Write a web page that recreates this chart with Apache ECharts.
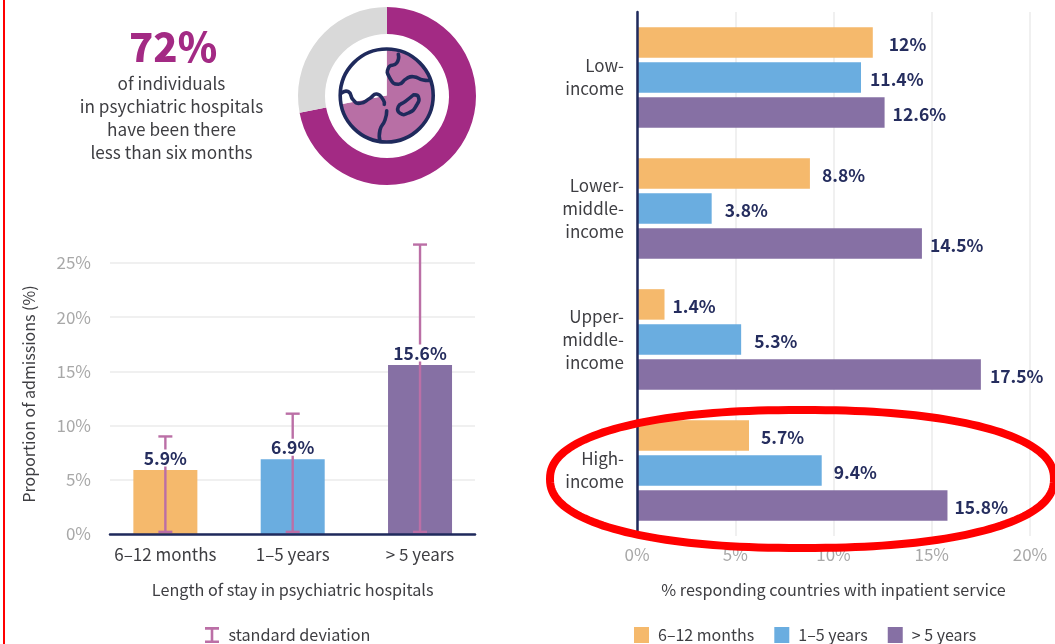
<!DOCTYPE html>
<html><head><meta charset="utf-8">
<style>html,body{margin:0;padding:0;background:#fff}#c{width:1055px;height:644px}</style>
<script src="https://cdn.jsdelivr.net/npm/echarts@6/dist/echarts.min.js"></script>
</head><body><div id="c"></div>
<script>
const stayCategories = ['6–12 months','1–5 years','> 5 years'];
const stayValues = [5.9, 6.9, 15.6];
const stayLow = [0.2, 0.2, 0.2];
const stayHigh = [9.0, 11.1, 26.7];
const incomeCategories = ['Low-\nincome','Lower-\nmiddle-\nincome','Upper-\nmiddle-\nincome','High-\nincome'];
const months6to12 = [12, 8.8, 1.4, 5.7];
const years1to5 = [11.4, 3.8, 5.3, 9.4];
const yearsOver5 = [12.6, 14.5, 17.5, 15.8];
const gaps6to12 = [16, 12, 8, 12];
const gaps1to5 = [9, 13, 13, 12];
const gapsOver5 = [8, 8, 9, 7];
const donutShares = [72, 28];

const FONT = '"Noto Sans CJK SC","Noto Sans",sans-serif';
const ORANGE='#f5b96c', BLUE='#6aade0', PURPLE='#8670a4', NAVY='#1f2a5c', MAGENTA='#a32a84', PINK='#bb6fa6', GREY='#a8a8a8', TEXT='#3e3e42', GRID='#ebebeb';

const iconLines = [
  {pts:[[398.3,54.3],[396.7,63],[388.6,67.5],[389.8,78],[398.3,84.3],[406.7,78.5],[413.3,76.7],[423.3,80],[430,80.3]]},
  {pts:[[341,93.3],[348.3,91.7],[353.3,100],[360,103.3],[370,98.3],[376.7,94],[383.3,100],[384.3,104.3]]},
  {pts:[[386.7,110.7],[385,120],[380,130],[380,141.5]]},
  {pts:[[413.3,95],[418.3,96.7],[416.7,105],[408.3,113],[400,113.3],[398.3,106.7],[405,101.7],[413.3,95]]}
];
const storyLines = ['of individuals','in psychiatric hospitals','have been there','less than six months'];

function incomeSeries(name, values, gaps, color){
  return {name, type:'bar', xAxisIndex:2, yAxisIndex:2, barWidth:30.5, barGap:'15%', z:3,
    itemStyle:{color}, silent:true,
    data: values.map((v,i)=>({value:v,label:{distance:gaps[i]}})),
    label:{show:true, position:'right', offset:[0,1.5], formatter:p=>p.value+'%', color:'#252d5e', fontWeight:'bold', fontSize:17.5, fontFamily:FONT}};
}
function loopPoints(cx,cy,rx,ry,n){
  const pts=[];
  for(let d=0;d<360;d+=2){
    const t=d*Math.PI/180,c=Math.cos(t),s=Math.sin(t);
    pts.push([cx+rx*Math.sign(c)*Math.pow(Math.abs(c),2/n), cy+ry*Math.sign(s)*Math.pow(Math.abs(s),2/n)]);
  }
  return pts;
}

const graphicEls = [
  {type:'rect', z:100, silent:true, shape:{x:3,y:0,width:2,height:644}, style:{fill:'#ff0000'}},
  {type:'circle', z:100, silent:true, shape:{cx:386.7,cy:95.5,r:46.5}, style:{fill:'none',stroke:NAVY,lineWidth:3.6}},
  ...iconLines.map(l=>({type:'polyline', z:100, silent:true, shape:{points:l.pts,smooth:0.6}, style:{fill:'none',stroke:NAVY,lineWidth:3.6,lineCap:'round'}})),
  {type:'text', z:100, silent:true, style:{x:173,y:47,text:'72%',fill:MAGENTA,font:'900 40px '+FONT,textAlign:'center',textVerticalAlign:'middle'}},
  ...storyLines.map((t,i)=>({type:'text', z:100, silent:true, style:{x:171.5,y:83.5+i*23,text:t,fill:TEXT,font:'17.2px '+FONT,textAlign:'center',textVerticalAlign:'middle'}})),
  {type:'polygon', z:200, silent:true, shape:{points:loopPoints(802,479,252,69,2.25)}, style:{fill:'none',stroke:'#ff0000',lineWidth:8}}
];

const option = {
  animation:false,
  textStyle:{fontFamily:FONT},
  grid:[
    {left:101.7, width:382, top:263, height:271},
    {left:110, width:365, top:263, height:271},
    {left:637, width:393, top:12, height:524}
  ],
  xAxis:[
    {type:'category', gridIndex:0, data:stayCategories, axisLine:{show:false}, axisTick:{show:false},
      axisLabel:{color:TEXT,fontSize:17,margin:12,interval:0,fontFamily:FONT},
      name:'Length of stay in psychiatric hospitals', nameLocation:'middle', nameGap:48,
      nameTextStyle:{color:TEXT,fontSize:16.2,fontFamily:FONT}},
    {type:'value', gridIndex:1, min:0, max:1, z:10, axisLabel:{show:false}, axisTick:{show:false}, splitLine:{show:false},
      axisLine:{show:true,lineStyle:{color:NAVY,width:2.5}}},
    {type:'value', gridIndex:2, min:0, max:20, interval:5, axisLine:{show:false}, axisTick:{show:false},
      axisLabel:{color:GREY,fontSize:17,margin:10,fontFamily:FONT,formatter:'{value}%'},
      splitLine:{show:true,lineStyle:{color:GRID,width:1.5}},
      name:'% responding countries with inpatient service', nameLocation:'middle', nameGap:46,
      nameTextStyle:{color:TEXT,fontSize:16.2,fontFamily:FONT}}
  ],
  yAxis:[
    {type:'value', gridIndex:0, min:0, max:25, interval:5, axisLine:{show:false}, axisTick:{show:false}, axisLabel:{show:false}, splitLine:{show:false}},
    {type:'value', gridIndex:1, min:0, max:25, interval:5, axisLine:{show:false}, axisTick:{show:false},
      axisLabel:{color:GREY,fontSize:17,margin:19,fontFamily:FONT,formatter:'{value}%',padding:[0,0,6,0]},
      splitLine:{show:true,lineStyle:{color:GRID,width:1.5}},
      name:'Proportion of admissions (%)', nameLocation:'middle', nameGap:73, nameRotate:90,
      nameTextStyle:{color:TEXT,fontSize:16,fontFamily:FONT,padding:[0,0,0,9]}},
    {type:'category', gridIndex:2, inverse:true, data:incomeCategories, z:10,
      axisLine:{show:true,lineStyle:{color:NAVY,width:2.5}}, axisTick:{show:false},
      axisLabel:{color:TEXT,fontSize:17,lineHeight:23,margin:13,align:'right',fontFamily:FONT,padding:[6,0,0,0]}}
  ],
  legend:[
    {left:205, top:627, padding:0, itemWidth:15, itemHeight:16, selectedMode:false,
      data:[{name:'standard deviation', icon:'path://M0 0H14V2.6H8.3V13.4H14V16H0V13.4H5.7V2.6H0Z'}],
      textStyle:{color:TEXT,fontSize:16.2,fontFamily:FONT,padding:[0,0,0,4]}},
    {left:634, top:627, padding:0, itemWidth:15, itemHeight:16, itemGap:20, selectedMode:false, icon:'rect',
      data:['6–12 months','1–5 years','> 5 years'],
      textStyle:{color:TEXT,fontSize:16,fontFamily:FONT,padding:[0,0,0,4]}}
  ],
  series:[
    {type:'pie', center:[387,96], radius:[62,89], startAngle:90, silent:true, label:{show:false}, labelLine:{show:false},
      data:donutShares.map((v,i)=>({value:v,itemStyle:{color:i?'#d9d9d9':MAGENTA}}))},
    {type:'pie', center:[386.7,95.5], radius:[0,46.5], startAngle:90, silent:true, label:{show:false}, labelLine:{show:false},
      data:donutShares.map((v,i)=>({value:v,itemStyle:{color:i?'#ffffff':'#b86fa5'}}))},
    {type:'bar', xAxisIndex:0, yAxisIndex:0, barWidth:64, z:2, silent:true,
      data:stayValues.map((v,i)=>({value:v,itemStyle:{color:[ORANGE,BLUE,PURPLE][i]}}))},
    {name:'standard deviation', type:'custom', xAxisIndex:0, yAxisIndex:0, z:3, silent:true,
      itemStyle:{color:PINK},
      data:stayCategories.map((c,i)=>[i,stayLow[i],stayHigh[i]]),
      encode:{x:0,y:[1,2]},
      renderItem(params,api){
        const lo=api.coord([api.value(0),api.value(1)]), hi=api.coord([api.value(0),api.value(2)]);
        const s={stroke:PINK,lineWidth:2.4,fill:'none'}, cap=7;
        return {type:'group',children:[
          {type:'line',shape:{x1:lo[0],y1:lo[1],x2:hi[0],y2:hi[1]},style:s},
          {type:'line',shape:{x1:lo[0]-cap,y1:lo[1],x2:lo[0]+cap,y2:lo[1]},style:s},
          {type:'line',shape:{x1:hi[0]-cap,y1:hi[1],x2:hi[0]+cap,y2:hi[1]},style:s}
        ]};
      }},
    {type:'scatter', xAxisIndex:0, yAxisIndex:0, z:5, silent:true, symbolSize:1, itemStyle:{color:'rgba(0,0,0,0)',opacity:1},
      data:stayValues.map((v,i)=>[i,v]),
      label:{show:true, position:'top', distance:3, formatter:p=>p.value[1]+'%', color:'#252d5e', fontWeight:'bold', fontSize:17.5, lineHeight:17,
        fontFamily:FONT, backgroundColor:'#fff', padding:[0,1]}},
    incomeSeries('6–12 months', months6to12, gaps6to12, ORANGE),
    incomeSeries('1–5 years', years1to5, gaps1to5, BLUE),
    incomeSeries('> 5 years', yearsOver5, gapsOver5, PURPLE)
  ],
  graphic:{elements:graphicEls}
};
echarts.init(document.getElementById('c'),null,{renderer:'canvas'}).setOption(option);
</script></body></html>
